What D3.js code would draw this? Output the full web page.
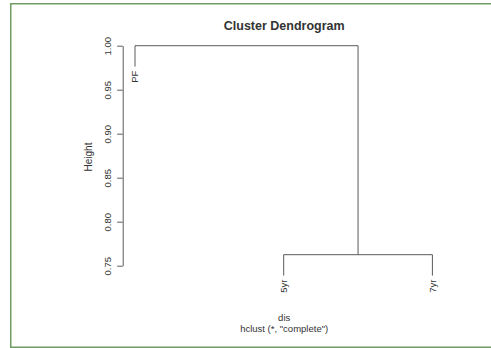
<!DOCTYPE html>
<html>
<head>
<meta charset="utf-8">
<script src="https://cdn.jsdelivr.net/npm/d3@7/dist/d3.min.js"></script>
<style>
  html, body { margin: 0; padding: 0; background: #fff; }
  svg { display: block; }
  text { font-family: "Liberation Sans", Arial, Helvetica, sans-serif; fill: #333; }
</style>
</head>
<body>
<svg id="chart" width="491" height="348"></svg>
<script>
// hclust result: leaf labels, merge matrix (negative = leaf), merge heights, leaf order
const leafLabels = ["PF", "5yr", "7yr"];
const mergeSteps = [[-2, -3], [-1, 1]];
const mergeHeights = [0.7625, 1.0];
const leafOrder = [1, 2, 3];
const yTicks = [0.75, 0.80, 0.85, 0.90, 0.95, 1.00];
const tickLabels = ["0.75", "0.80", "0.85", "0.90", "0.95", "1.00"];

const svg = d3.select("#chart");
const W = 491, H = 348;
const lineColor = "#5a5a5a";

// framing border
svg.append("path")
  .attr("d", `M10.75,${H + 2} V3.75 H${W + 2}`)
  .attr("fill", "none").attr("stroke", "#6f9c62").attr("stroke-width", 1.5);
svg.append("line")
  .attr("x1", 10).attr("x2", W + 2).attr("y1", 347.25).attr("y2", 347.25)
  .attr("stroke", "#6f9c62").attr("stroke-width", 1.5);

// scales: leaf index -> x, height -> y
const x = d3.scaleLinear().domain([1, 3]).range([135, 432.4]);
const y = d3.scaleLinear().domain([0.75, 1.0]).range([265.7, 45.7]);

const hang = 0.1 * (d3.max(mergeHeights) - d3.min(mergeHeights));

// position of each leaf along the order
const leafPos = {};
leafOrder.forEach((leaf, i) => { leafPos[leaf] = i + 1; });

// compute node (x, height) for each merge step
const nodes = [];
function nodeOf(idx) {
  if (idx < 0) {
    const leaf = -idx;
    return { x: leafPos[leaf], h: null, leaf };
  }
  return nodes[idx - 1];
}

const g = svg.append("g")
  .attr("fill", "none").attr("stroke", lineColor).attr("stroke-width", 1);

mergeSteps.forEach((pair, i) => {
  const h = mergeHeights[i];
  const a = nodeOf(pair[0]);
  const b = nodeOf(pair[1]);
  [a, b].forEach(c => {
    const bottom = c.h === null ? h - hang : c.h;
    g.append("line")
      .attr("x1", x(c.x)).attr("x2", x(c.x))
      .attr("y1", y(h)).attr("y2", y(bottom));
  });
  g.append("line")
    .attr("x1", x(a.x)).attr("x2", x(b.x))
    .attr("y1", y(h)).attr("y2", y(h));
  nodes.push({ x: (a.x + b.x) / 2, h });
});

// leaf labels, hung below each leaf end and rotated
mergeSteps.forEach((pair, i) => {
  pair.filter(v => v < 0).forEach(v => {
    const leaf = -v;
    const xp = x(leafPos[leaf]);
    const yp = y(mergeHeights[i] - hang) + 4;
    svg.append("text")
      .attr("transform", `translate(${xp},${yp}) rotate(-90)`)
      .attr("text-anchor", "end")
      .attr("dy", "0.35em")
      .attr("font-size", 9.5)
      .text(leafLabels[leaf - 1]);
  });
});

// y axis
const axisX = 122.7;
const axis = d3.axisLeft(y)
  .tickValues(yTicks)
  .tickFormat((d, i) => tickLabels[i])
  .tickSize(5.5)
  .tickSizeOuter(0);
const ag = svg.append("g").attr("transform", `translate(${axisX},0)`).call(axis);
ag.selectAll("path.domain, .tick line").attr("stroke", lineColor).attr("stroke-width", 1);
ag.selectAll(".tick text")
  .attr("x", null).attr("dy", null)
  .attr("transform", "translate(-15,0) rotate(-90)")
  .attr("text-anchor", "middle")
  .attr("dy", "0.35em")
  .attr("font-size", 9.5)
  .attr("font-family", "Liberation Sans, Arial, sans-serif")
  .attr("fill", "#333");

// titles
const cx = (x.range()[0] + x.range()[1]) / 2 + 0.5;
svg.append("text")
  .attr("x", cx).attr("y", 29.5)
  .attr("text-anchor", "middle")
  .attr("font-size", 12.5).attr("font-weight", "bold")
  .attr("fill", "#222")
  .text("Cluster Dendrogram");

svg.append("text")
  .attr("transform", "translate(88,157) rotate(-90)")
  .attr("text-anchor", "middle")
  .attr("dy", "0.35em")
  .attr("font-size", 10)
  .text("Height");

svg.append("text")
  .attr("x", cx).attr("y", 320.5)
  .attr("text-anchor", "middle")
  .attr("font-size", 9.5)
  .text("dis");

svg.append("text")
  .attr("x", cx).attr("y", 332)
  .attr("text-anchor", "middle")
  .attr("font-size", 9.5)
  .text("hclust (*, \"complete\")");
</script>
</body>
</html>
